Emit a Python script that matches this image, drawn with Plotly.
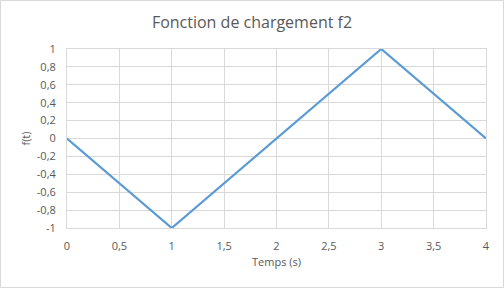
import plotly.graph_objects as go

t = [0, 1, 3, 4]
f = [0, -1, 1, 0]
x_ticks = [0, 0.5, 1, 1.5, 2, 2.5, 3, 3.5, 4]
x_labels = ["0", "0,5", "1", "1,5", "2", "2,5", "3", "3,5", "4"]
y_ticks = [-1, -0.8, -0.6, -0.4, -0.2, 0, 0.2, 0.4, 0.6, 0.8, 1]
y_labels = ["-1", "-0,8", "-0,6", "-0,4", "-0,2", "0", "0,2", "0,4", "0,6", "0,8", "1"]

W, H = 504, 288
L, R, T, B = 67, 18, 49, 60
pw, ph = W - L - R, H - T - B

fig = go.Figure(go.Scatter(x=t, y=f, mode="lines",
                           line=dict(color="#5B9BD5", width=2.25)))

font = "Open Sans"
fig.update_layout(
    width=W, height=H,
    margin=dict(l=L, r=R, t=T, b=B),
    paper_bgcolor="white", plot_bgcolor="white",
    showlegend=False,
    title=dict(text="Fonction de chargement f2", x=0.5, xanchor="center",
               y=1 - 22 / H, yanchor="middle",
               font=dict(family=font, size=16, color="#595959")),
    font=dict(family=font, size=11, color="#595959"),
    xaxis=dict(range=[0, 4], tickvals=x_ticks, ticktext=x_labels,
               showgrid=True, gridcolor="#D9D9D9", gridwidth=1,
               zeroline=False, showline=True, linecolor="#D9D9D9",
               mirror=True, ticks="", ticklabelstandoff=8,
               title=dict(text="Temps (s)", standoff=6,
                          font=dict(family=font, size=11, color="#595959"))),
    yaxis=dict(range=[-1, 1], tickvals=y_ticks, ticktext=y_labels,
               showgrid=True, gridcolor="#D9D9D9", gridwidth=1,
               zeroline=False, showline=True, linecolor="#D9D9D9",
               mirror=True, ticks="", ticklabelstandoff=8,
               title=dict(text="f(t)", standoff=3,
                          font=dict(family=font, size=11, color="#595959"))),
)

fig.add_shape(type="rect", xref="paper", yref="paper",
              x0=(0.5 - L) / pw, x1=(W - 0.5 - L) / pw,
              y0=-(H - 0.5 - T - ph) / ph, y1=(T - 0.5) / ph + 1,
              line=dict(color="#D9D9D9", width=1), layer="below")

fig.write_html("out.html")
